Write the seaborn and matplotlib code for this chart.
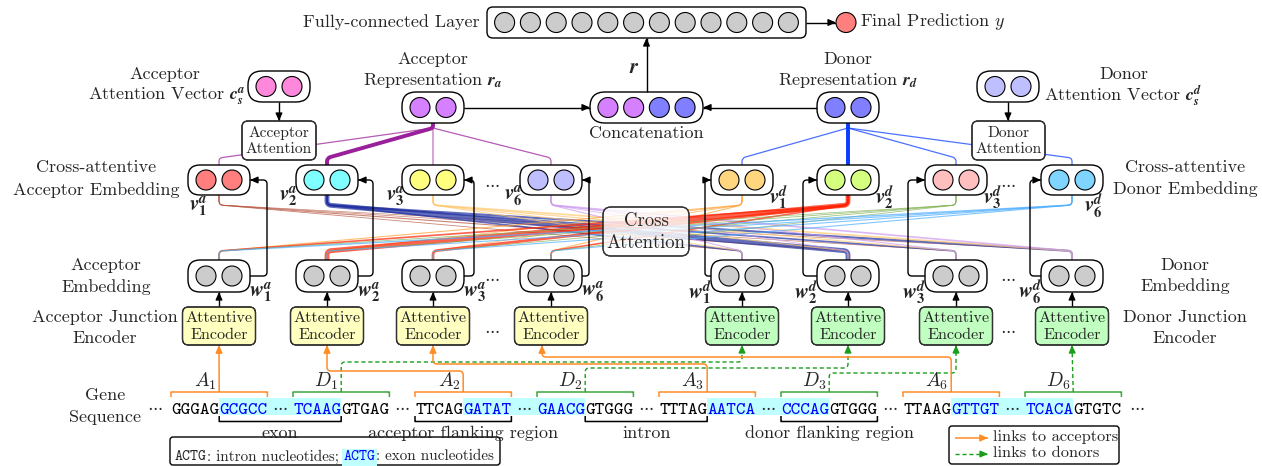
import numpy as np
import matplotlib
matplotlib.use("Agg")
import matplotlib.pyplot as plt
import seaborn as sns
from matplotlib.patches import FancyBboxPatch, Circle, FancyArrowPatch, PathPatch, Rectangle
from matplotlib.path import Path
from matplotlib.mathtext import MathTextParser
from matplotlib.font_manager import FontProperties

sns.set_theme(style="white")
plt.rcParams['font.family'] = ['cmr10', 'DejaVu Serif']
plt.rcParams['mathtext.fontset'] = 'cm'
plt.rcParams['axes.unicode_minus'] = False

# =============== DATA ===============
fc_units = 12
junction_ids = ['1', '2', '3', '6']
acc_v_colors = ['#FF7F7F', '#7FFFFF', '#FFFF7F', '#BFBFFF']
don_v_colors = ['#FFD580', '#D5FF7F', '#FFBFBF', '#7FD5FF']
acc_link_colors = ['#B5523B', '#1F2FA0', '#FFC870', '#CC99EE']
don_link_colors = ['#FFA030', '#FF2000', '#7FAF4F', '#4FAFFF']
rep_a_colors = ['#D580FF', '#D580FF']
rep_d_colors = ['#7F7FFF', '#7F7FFF']
att_a_colors = ['#FF88DD', '#FF88DD']
att_d_colors = ['#BFBFFF', '#BFBFFF']
# attention strength of representation -> cross-attentive embeddings
rep_a_weights = [0.9, 2.8, 0.8, 0.9]
rep_d_weights = [0.9, 2.8, 0.9, 0.9]
# cross attention: acceptor v_i -> donor w_j   (rows i, cols j)
cross_acc = [[0.6, 0.8, 0.5, 0.5],
             [1.2, 3.5, 1.2, 1.5],
             [0.8, 0.8, 0.8, 1.2],
             [0.8, 0.6, 0.8, 1.2]]
# cross attention: donor v_j -> acceptor w_i   (rows j, cols i)
cross_don = [[0.8, 0.6, 0.6, 0.8],
             [1.2, 3.5, 2.0, 1.2],
             [0.6, 0.6, 0.6, 0.6],
             [1.0, 0.8, 0.8, 0.8]]
seq_blocks = ['GGGAG', 'GCGCC', 'TCAAG', 'GTGAG', 'TTCAG', 'GATAT', 'GAACG', 'GTGGG',
              'TTTAG', 'AATCA', 'CCCAG', 'GTGGG', 'TTAAG', 'GTTGT', 'TCACA', 'GTGTC']
block_is_exon = [0, 1, 1, 0, 0, 1, 1, 0, 0, 1, 1, 0, 0, 1, 1, 0]
site_labels = ['A_1', 'D_1', 'A_2', 'D_2', 'A_3', 'D_3', 'A_6', 'D_6']
region_labels = ['exon', 'acceptor flanking region', 'intron', 'donor flanking region']
region_blocks = [(1, 2), (4, 5), (7, 8), (10, 11)]

# =============== LAYOUT (pixels, y downwards) ===============
W, H = 1262, 466
acc_x = [219, 327, 433, 551]
don_x = [742, 848, 956, 1072]
acc_skip_x = [267, 373, 474, 589]
don_skip_x = [705, 803, 908, 1030]
acc_route_y = [None, 371, 364, 357]
don_route_y = [362, 368, 373, None]
acc_entry_dx = [0, 0, 0, -9]
V_TOP, V_BOT = 165, 195
W_TOP, W_BOT = 260, 292
ENC_TOP, ENC_BOT = 307, 345
BOX_W = 62
SEQ_X0, CHAR_W, GAP_W = 171, 9.64, 25.6
SEQ_BASE = 414
ORANGE = '#FF8C26'
GREEN = '#3DA63D'
DGREEN = '#1A9E1A'
SIZE = 13
MSIZE = 15

fig = plt.figure(figsize=(W / 100, H / 100), dpi=100)
ax = fig.add_axes([0, 0, 1, 1])
ax.set_xlim(0, W)
ax.set_ylim(H, 0)
ax.axis('off')

try:
    MathTextParser('path').parse(r'$\mathbfit{v}$', prop=FontProperties(math_fontfamily='stix'))
    BFIT = r'\mathbfit'
except Exception:
    BFIT = r'\mathbf'


def bsym(base, sup=None, sub=None, sub_it=False):
    s = BFIT + '{' + base + '}'
    if sup:
        s += '^{' + BFIT + '{' + sup + '}}'
    if sub:
        s += '_{' + (BFIT if sub_it else r'\mathbf') + '{' + sub + '}}'
    return '$' + s + '$'


def txt(x, y, s, size=SIZE, ha='center', va='center', **kw):
    return ax.text(x, y, s, fontsize=size, ha=ha, va=va, zorder=8, **kw)


def rounded_path(pts, r=4):
    verts = [tuple(pts[0])]
    codes = [Path.MOVETO]
    for i in range(1, len(pts) - 1):
        p0, p1, p2 = (np.array(pts[k], float) for k in (i - 1, i, i + 1))
        d1, d2 = p1 - p0, p2 - p1
        l1, l2 = np.hypot(*d1), np.hypot(*d2)
        if l1 == 0 or l2 == 0:
            continue
        rr = min(r, l1 / 2, l2 / 2)
        verts += [tuple(p1 - d1 / l1 * rr), tuple(p1), tuple(p1 + d2 / l2 * rr)]
        codes += [Path.LINETO, Path.CURVE3, Path.CURVE3]
    verts.append(tuple(pts[-1]))
    codes.append(Path.LINETO)
    return Path(verts, codes)


def line(pts, color='black', lw=1.0, ls='-', alpha=1.0, z=2, r=4):
    ax.add_patch(PathPatch(rounded_path(pts, r), fill=False, ec=color, lw=lw, ls=ls,
                           alpha=alpha, zorder=z, capstyle='butt', joinstyle='round'))


def arrow(pts, color='black', lw=1.0, ls='-', z=5, r=4):
    line(pts, color, lw, ls, z=z, r=r)
    p1 = np.array(pts[-2], float)
    p2 = np.array(pts[-1], float)
    d = (p2 - p1) / np.hypot(*(p2 - p1))
    ax.add_patch(FancyArrowPatch(tuple(p2 - d * 5), tuple(p2),
                                 arrowstyle='-|>,head_length=0.45,head_width=0.2',
                                 mutation_scale=10, color=color, lw=lw, shrinkA=0, shrinkB=0,
                                 zorder=z + 0.1))


def node_box(cx, top, bottom, colors, width=BOX_W, rounding=12, spacing=26, z=4):
    ax.add_patch(FancyBboxPatch((cx - width / 2, top), width, bottom - top,
                                boxstyle=f"round,pad=0,rounding_size={rounding}",
                                fc='white', ec='black', lw=1.0, zorder=z))
    cy = (top + bottom) / 2
    n = len(colors)
    for k, c in enumerate(colors):
        ax.add_patch(Circle((cx + (k - (n - 1) / 2) * spacing, cy), 10, fc=c, ec='black',
                            lw=0.8, zorder=z + 0.5))


def text_box(cx, top, bottom, width, label, fc='white', size=11, rounding=6, alpha=1.0, z=6,
             spacing=1.25):
    ax.add_patch(FancyBboxPatch((cx - width / 2, top), width, bottom - top,
                                boxstyle=f"round,pad=0,rounding_size={rounding}",
                                fc=fc, ec='black', lw=0.9, alpha=alpha, zorder=z))
    ax.add_patch(FancyBboxPatch((cx - width / 2, top), width, bottom - top,
                                boxstyle=f"round,pad=0,rounding_size={rounding}",
                                fc='none', ec='#333333', lw=0.9, zorder=z + 0.1))
    txt(cx, (top + bottom) / 2 + 0.5, label, size=size, linespacing=spacing)


# =============== TOP: FC layer + prediction ===============
fc_cx = 646.5
node_box(fc_cx, 7, 38, ['#CCCCCC'] * fc_units, width=319, rounding=6, spacing=25.8)
txt(480, 22, 'Fully-connected Layer', ha='right')
arrow([(806, 22.5), (836, 22.5)])
ax.add_patch(Circle((846, 22.5), 10, fc='#FF7F7F', ec='black', lw=0.8, zorder=5))
txt(860, 22, 'Final Prediction $y$', ha='left')

# =============== representations ===============
node_box(fc_cx, 92, 123, rep_a_colors + rep_d_colors, width=113, rounding=15, spacing=25.7)
txt(fc_cx, 133, 'Concatenation')
arrow([(fc_cx, 92), (fc_cx, 38)])
txt(634, 68, bsym('r'), math_fontfamily='stix', size=MSIZE)

ra_x, rd_x = acc_x[2], don_x[1]
node_box(ra_x, 92, 123, rep_a_colors, rounding=14)
node_box(rd_x, 92, 123, rep_d_colors, rounding=14)
arrow([(ra_x + 31, 107.5), (590, 107.5)])
arrow([(rd_x - 31, 107.5), (703, 107.5)])
txt(ra_x, 59, 'Acceptor')
txt(ra_x, 80, 'Representation ' + bsym('r', sub='a', sub_it=True), math_fontfamily='stix')
txt(rd_x, 59, 'Donor')
txt(rd_x, 80, 'Representation ' + bsym('r', sub='d', sub_it=True), math_fontfamily='stix')

# attention vectors
node_box(279, 71, 102, att_a_colors, rounding=14)
node_box(1008, 71, 102, att_d_colors, rounding=14)
arrow([(279, 102), (279, 121)])
arrow([(1008, 102), (1008, 121)])
text_box(279, 121, 160, 74, 'Acceptor\nAttention', size=11.2)
text_box(1008.5, 121, 160, 73, 'Donor\nAttention', size=11.2)
txt(165, 74, 'Acceptor')
txt(245, 96, 'Attention Vector ' + bsym('c', sup='a', sub='s', sub_it=True), ha='right',
    math_fontfamily='stix')
txt(1124, 74, 'Donor')
txt(1044, 96, 'Attention Vector ' + bsym('c', sup='d', sub='s', sub_it=True), ha='left',
    math_fontfamily='stix')

# representation -> cross-attentive embeddings
for k, vx in enumerate(acc_x):
    w = rep_a_weights[k]
    line([(ra_x, 123), (ra_x, 128), (vx, 158), (vx, V_TOP)], color='#9A1F9A', lw=w,
         alpha=min(1.0, 0.55 + 0.2 * w), z=1.5)
for k, vx in enumerate(don_x):
    w = rep_d_weights[k]
    line([(rd_x, 123), (rd_x, 128), (vx, 158), (vx, V_TOP)], color='#0A3CFF', lw=w,
         alpha=min(1.0, 0.55 + 0.2 * w), z=1.5)

# =============== cross attention lines ===============
for i, vx in enumerate(acc_x):
    for j, wx in enumerate(don_x):
        line([(vx, V_BOT), (vx, V_BOT + 10), (wx, W_TOP - 9), (wx, W_TOP)],
             color=acc_link_colors[i], lw=cross_acc[i][j], alpha=0.7, z=1)
for j, vx in enumerate(don_x):
    for i, wx in enumerate(acc_x):
        line([(vx, V_BOT), (vx, V_BOT + 10), (wx, W_TOP - 9), (wx, W_TOP)],
             color=don_link_colors[j], lw=cross_don[j][i], alpha=0.7, z=1)
text_box(646, 207, 256, 86, 'Cross\nAttention', size=13.5, rounding=8, alpha=0.8, z=3,
         spacing=1.3)

# =============== embeddings & encoders ===============
for k, cx in enumerate(acc_x):
    node_box(cx, V_TOP, V_BOT, [acc_v_colors[k]] * 2)
    node_box(cx, W_TOP, W_BOT, ['#CCCCCC'] * 2)
    text_box(cx, ENC_TOP, ENC_BOT, 73, 'Attentive\nEncoder', fc='#FFFFC0', size=11.6)
    arrow([(cx, ENC_TOP), (cx, W_BOT)])
    sx = acc_skip_x[k]
    arrow([(cx + 31, 276), (sx, 276), (sx, 180), (cx + 31, 180)])
    txt(cx + 30, 292, bsym('w', sup='a', sub=junction_ids[k]), ha='left', size=MSIZE,
        math_fontfamily='stix')
    if k == 0:
        txt(cx - 21, 206, bsym('v', sup='a', sub=junction_ids[k]), size=MSIZE,
            math_fontfamily='stix')
    else:
        txt(cx - 29, 196, bsym('v', sup='a', sub=junction_ids[k]), ha='right', size=MSIZE,
            math_fontfamily='stix')

for k, cx in enumerate(don_x):
    node_box(cx, V_TOP, V_BOT, [don_v_colors[k]] * 2)
    node_box(cx, W_TOP, W_BOT, ['#CCCCCC'] * 2)
    text_box(cx, ENC_TOP, ENC_BOT, 73, 'Attentive\nEncoder', fc='#C0FFC0', size=11.6)
    arrow([(cx, ENC_TOP), (cx, W_BOT)])
    sx = don_skip_x[k]
    arrow([(cx - 31, 276), (sx, 276), (sx, 180), (cx - 31, 180)])
    txt(cx - 30, 292, bsym('w', sup='d', sub=junction_ids[k]), ha='right', size=MSIZE,
        math_fontfamily='stix')
    if k == len(don_x) - 1:
        txt(cx + 22, 206, bsym('v', sup='d', sub=junction_ids[k]), size=MSIZE,
            math_fontfamily='stix')
    else:
        txt(cx + 27, 197, bsym('v', sup='d', sub=junction_ids[k]), ha='left', size=MSIZE,
            math_fontfamily='stix')

for dx in (492, 1008):
    for dy in (180, 274, 326):
        txt(dx, dy + 3, r'$\cdots$', size=12)

# side labels
for lines_, cx, ys in [(('Cross-attentive', 'Acceptor Embedding'), 96, (167, 190)),
                       (('Acceptor', 'Embedding'), 106, (265, 287)),
                       (('Acceptor Junction', 'Encoder'), 105, (317, 338)),
                       (('Gene', 'Sequence'), 105, (395, 417)),
                       (('Cross-attentive', 'Donor Embedding'), 1185, (167, 189)),
                       (('Donor', 'Embedding'), 1185, (265, 286)),
                       (('Donor Junction', 'Encoder'), 1185, (317, 338))]:
    for s, y in zip(lines_, ys):
        txt(cx, y, s)

# =============== gene sequence ===============
block_x = []
x = SEQ_X0
for b, s in enumerate(seq_blocks):
    block_x.append(x)
    x += len(s) * CHAR_W
    if b % 2 == 1 and b < len(seq_blocks) - 1:
        x += GAP_W
blk_w = 5 * CHAR_W

for b in range(1, len(seq_blocks) - 1, 4):
    ax.add_patch(Rectangle((block_x[b], 398), block_x[b + 1] + blk_w - block_x[b], 17,
                           fc='#BFFFFF', ec='none', zorder=1))
for b, s in enumerate(seq_blocks):
    txt(block_x[b], SEQ_BASE, s, size=13.2, ha='left', va='baseline', family='cmtt10',
        color='#0000FF' if block_is_exon[b] else 'black')
    if b % 2 == 1 and b < len(seq_blocks) - 1:
        txt(block_x[b] + blk_w + GAP_W / 2, 411, r'$\cdots$', size=12, va='baseline')
txt(SEQ_X0 - 16, 411, r'$\cdots$', size=12, va='baseline')
txt(block_x[-1] + blk_w + 15, 411, r'$\cdots$', size=12, va='baseline')

# site brackets + links to encoders
for s in range(len(site_labels)):
    b0 = 2 * s
    x0, x1 = block_x[b0], block_x[b0 + 1] + blk_w
    lx = block_x[b0 + 1]
    is_acc = site_labels[s].startswith('A')
    col = ORANGE if is_acc else GREEN
    line([(x0, 397), (x0, 392), (x1, 392), (x1, 397)], color=col, lw=1.1, z=3, r=0.01)
    txt(lx - 3, 381, '$' + site_labels[s] + '$', ha='right', size=14)
    k = s // 2
    if is_acc:
        ex = acc_x[k] + acc_entry_dx[k]
        ry = acc_route_y[k]
        pts = [(lx, 392), (ex, ENC_BOT)] if ry is None else \
            [(lx, 392), (lx, ry), (ex, ry), (ex, ENC_BOT)]
        arrow(pts, color=ORANGE, lw=1.1, z=2)
    else:
        ex = don_x[k]
        ry = don_route_y[k]
        pts = [(lx, 392), (ex, ENC_BOT)] if ry is None else \
            [(lx, 392), (lx, ry), (ex, ry), (ex, ENC_BOT)]
        arrow(pts, color=DGREEN, lw=1.0, ls=(0, (3, 2)), z=2)

# region braces under the sequence
for (b0, b1), lab in zip(region_blocks, region_labels):
    x0, x1 = block_x[b0], block_x[b1] + blk_w
    line([(x0, 416), (x0, 421.5), (x1, 421.5), (x1, 416)], color='black', lw=1.1, z=3, r=0.01)
    txt((x0 + x1) / 2, 433, lab)

# legend: nucleotides
ax.add_patch(FancyBboxPatch((170, 437), 330, 28, boxstyle="round,pad=0,rounding_size=3",
                            fc='white', ec='black', lw=1.0, zorder=2))
renderer = fig.canvas.get_renderer()
x = 175
for s, kw in [('ACTG', dict(family='cmtt10')),
              (': intron nucleotides; ', {}),
              ('ACTG', dict(family='cmtt10', color='#0000FF',
                            bbox=dict(fc='#BFFFFF', ec='none', pad=1.2))),
              (': exon nucleotides', {})]:
    t = ax.text(x, 460.5, s, fontsize=10.9, ha='left', va='baseline', zorder=8, **kw)
    x += t.get_window_extent(renderer=renderer).width

# legend: links
ax.add_patch(FancyBboxPatch((949, 426), 170, 38, boxstyle="round,pad=0,rounding_size=3",
                            fc='white', ec='black', lw=1.0, zorder=2))
arrow([(955, 438), (988, 438)], color=ORANGE, lw=1.1)
arrow([(955, 454), (988, 454)], color=DGREEN, lw=1.0, ls=(0, (3, 2)))
txt(993, 437, 'links to acceptors', ha='left', size=11.8)
txt(993, 453, 'links to donors', ha='left', size=11.8)

fig.savefig('out.png', dpi=100)
